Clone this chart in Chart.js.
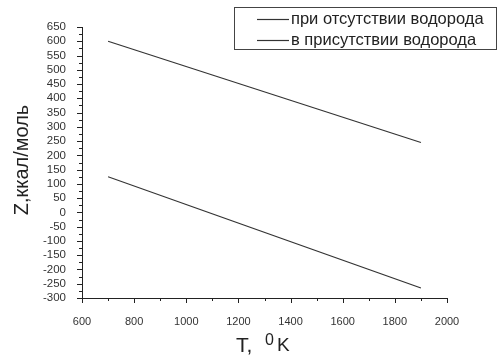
<!DOCTYPE html>
<html>
<head>
<meta charset="utf-8">
<script src="https://cdn.jsdelivr.net/npm/chart.js@4/dist/chart.umd.min.js"></script>
<style>
  html, body { margin: 0; padding: 0; background: #fff; }
  #wrap { width: 500px; height: 358px; }
</style>
</head>
<body>
<div id="wrap"><canvas id="zChart" width="500" height="358"></canvas></div>
<script>
const temps = [700, 1900];
const zNoHydrogen = [600, 245];
const zHydrogen = [125, -265];
const seriesLabels = ['при отсутствии водорода', 'в присутствии водорода'];
const yTitle = 'Z,ккал/моль';

const FONT = '"Liberation Sans", Arial, sans-serif';
const INK = '#222';

// minor/major tick marks drawn outward, plus titles and boxed legend
const decorPlugin = {
    id: 'decor',
    afterDraw(chart) {
        const ctx = chart.ctx;
        const xs = chart.scales.x, ys = chart.scales.y;
        const area = chart.chartArea;
        ctx.save();
        ctx.strokeStyle = INK;
        ctx.lineWidth = 1;
        ctx.beginPath();
        for (let v = 600; v <= 2000; v += 100) {
            const px = Math.round(xs.getPixelForValue(v)) + 0.5;
            const len = v % 200 === 0 ? 5 : 3;
            ctx.moveTo(px, area.bottom);
            ctx.lineTo(px, area.bottom + len);
        }
        for (let v = -300; v <= 650; v += 25) {
            const py = Math.round(ys.getPixelForValue(v)) + 0.5;
            const len = v % 50 === 0 ? 5 : 3;
            ctx.moveTo(area.left, py);
            ctx.lineTo(area.left - len, py);
        }
        ctx.stroke();

        // y title
        ctx.fillStyle = INK;
        ctx.save();
        ctx.translate(22, 160);
        ctx.rotate(-Math.PI / 2);
        ctx.font = '20px ' + FONT;
        ctx.textAlign = 'center';
        ctx.textBaseline = 'middle';
        ctx.fillText(yTitle, 0, 0);
        ctx.restore();

        // x title: T,  ⁰K
        ctx.textBaseline = 'alphabetic';
        ctx.textAlign = 'left';
        ctx.font = '21px ' + FONT;
        ctx.fillText('T,', 236, 352);
        ctx.font = '16px ' + FONT;
        ctx.fillText('0', 265, 345);
        ctx.font = '19px ' + FONT;
        ctx.fillText('K', 277, 351);

        // legend
        ctx.strokeStyle = '#444';
        ctx.strokeRect(234.5, 7.5, 262, 42);
        ctx.font = '16.5px ' + FONT;
        ctx.textBaseline = 'middle';
        chart.data.datasets.forEach((ds, i) => {
            const y = 19 + i * 21;
            ctx.strokeStyle = ds.borderColor;
            ctx.lineWidth = 1.2;
            ctx.beginPath();
            ctx.moveTo(257, y + 0.5);
            ctx.lineTo(289, y + 0.5);
            ctx.stroke();
            ctx.fillStyle = INK;
            ctx.fillText(ds.label, 291, y);
        });
        ctx.restore();
    }
};

new Chart(document.getElementById('zChart'), {
    type: 'scatter',
    data: {
        datasets: [
            {
                label: seriesLabels[0],
                data: temps.map((t, i) => ({ x: t, y: zNoHydrogen[i] })),
                showLine: true,
                borderColor: '#333',
                borderWidth: 1.2,
                pointRadius: 0
            },
            {
                label: seriesLabels[1],
                data: temps.map((t, i) => ({ x: t, y: zHydrogen[i] })),
                showLine: true,
                borderColor: '#333',
                borderWidth: 1.2,
                pointRadius: 0
            }
        ]
    },
    options: {
        responsive: false,
        animation: false,
        layout: { padding: { left: 0, right: 53, top: 27, bottom: 0 } },
        plugins: {
            legend: { display: false },
            tooltip: { enabled: false }
        },
        scales: {
            x: {
                type: 'linear',
                min: 600,
                max: 2000,
                grid: { display: false },
                border: { display: true, color: INK, width: 1 },
                ticks: {
                    stepSize: 200,
                    autoSkip: false,
                    maxRotation: 0,
                    padding: 9,
                    color: '#333',
                    font: { family: FONT, size: 11 },
                    callback: v => String(v)
                },
                afterFit(scale) { scale.height = 60; }
            },
            y: {
                min: -300,
                max: 650,
                grid: { display: false },
                border: { display: true, color: INK, width: 1 },
                ticks: {
                    stepSize: 50,
                    autoSkip: false,
                    padding: 8,
                    color: '#333',
                    font: { family: FONT, size: 11.5 },
                    callback: v => String(v)
                },
                afterFit(scale) { scale.width = 82; }
            }
        }
    },
    plugins: [decorPlugin]
});
</script>
</body>
</html>
